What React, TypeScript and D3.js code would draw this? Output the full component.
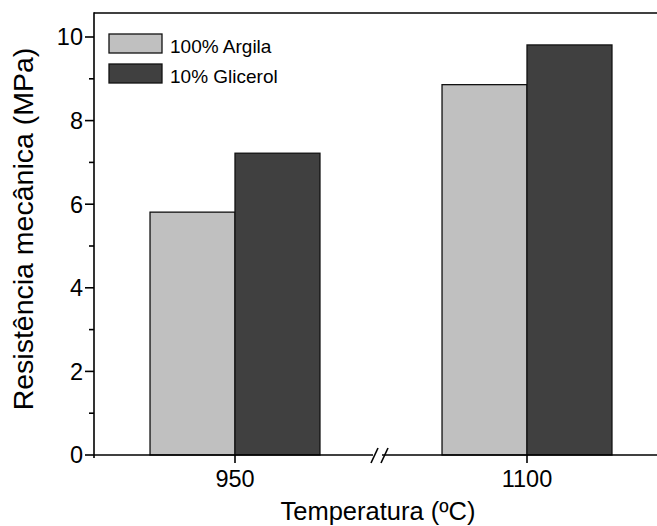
import React from "react";
import * as d3 from "d3";

const categories = ["950", "1100"];
const seriesNames = ["100% Argila", "10% Glicerol"];
const argila = [5.81, 8.86];
const glicerol = [7.22, 9.81];
const yTicks = [0, 2, 4, 6, 8, 10];
const yMinorTicks = [1, 3, 5, 7, 9];

const W = 657;
const H = 526;
const left = 94;
const top = 13;
const bottom = 455;
const right = 660;
const colors = ["#c0c0c0", "#404040"];
const font = "Liberation Sans, Arial, sans-serif";

export default function App() {
  const y = d3.scaleLinear().domain([0, 10]).range([bottom, 37]);
  const x = d3.scaleBand<string>().domain(categories).range([89, 673]).paddingInner(0.418).paddingOuter(0.209);
  const inner = d3.scaleBand<string>().domain(seriesNames).range([0, x.bandwidth()]).padding(0);
  const values = [argila, glicerol];
  const breakX = 378;

  return (
    <svg width={W} height={H} style={{ position: "absolute", left: 0, top: 0 }} fontFamily={font}>
      <rect x={0} y={0} width={W} height={H} fill="#fff" />
      {/* bars */}
      {categories.map((c, ci) =>
        seriesNames.map((s, si) => (
          <rect
            key={c + s}
            x={(x(c) as number) + (inner(s) as number)}
            y={y(values[si][ci])}
            width={inner.bandwidth()}
            height={bottom - y(values[si][ci])}
            fill={colors[si]}
            stroke="#111"
            strokeWidth={1.3}
          />
        ))
      )}
      {/* frame */}
      <line x1={left} x2={right} y1={top} y2={top} stroke="#000" strokeWidth={1.6} />
      <line x1={left} x2={left} y1={top - 0.8} y2={bottom + 3} stroke="#000" strokeWidth={1.6} />
      <line x1={left} x2={breakX - 5} y1={bottom} y2={bottom} stroke="#000" strokeWidth={1.6} />
      <line x1={breakX + 4} x2={right} y1={bottom} y2={bottom} stroke="#000" strokeWidth={1.6} />
      <line x1={breakX - 7} y1={bottom + 8} x2={breakX} y2={bottom - 7} stroke="#000" strokeWidth={1.6} />
      <line x1={breakX + 3} y1={bottom + 8} x2={breakX + 10} y2={bottom - 7} stroke="#000" strokeWidth={1.6} />
      {/* y ticks */}
      {yTicks.map((t) => (
        <g key={t}>
          <line x1={left - 9} x2={left} y1={y(t)} y2={y(t)} stroke="#000" strokeWidth={1.6} />
          <text x={left - 11} y={y(t)} dy="0.36em" textAnchor="end" fontSize={23.5} fill="#000">
            {t}
          </text>
        </g>
      ))}
      {yMinorTicks.map((t) => (
        <line key={t} x1={left - 5} x2={left} y1={y(t)} y2={y(t)} stroke="#000" strokeWidth={1.6} />
      ))}
      {/* x ticks */}
      {categories.map((c) => {
        const cx = (x(c) as number) + x.bandwidth() / 2;
        return (
          <g key={c}>
            <line x1={cx} x2={cx} y1={bottom} y2={bottom + 8} stroke="#000" strokeWidth={1.6} />
            <text x={cx} y={487} textAnchor="middle" fontSize={23.5} fill="#000">
              {c}
            </text>
          </g>
        );
      })}
      {/* axis titles */}
      <text x={378} y={520} textAnchor="middle" fontSize={25.5} fill="#000">
        Temperatura (ºC)
      </text>
      <text transform={`translate(33,229) rotate(-90)`} textAnchor="middle" fontSize={28.5} fill="#000">
        Resistência mecânica (MPa)
      </text>
      {/* legend */}
      {seriesNames.map((s, i) => (
        <g key={s}>
          <rect x={109} y={34 + i * 30} width={53} height={19} fill={colors[i]} stroke="#111" strokeWidth={1.3} />
          <text x={170} y={52.5 + i * 30} fontSize={19} fill="#000">
            {s}
          </text>
        </g>
      ))}
    </svg>
  );
}
